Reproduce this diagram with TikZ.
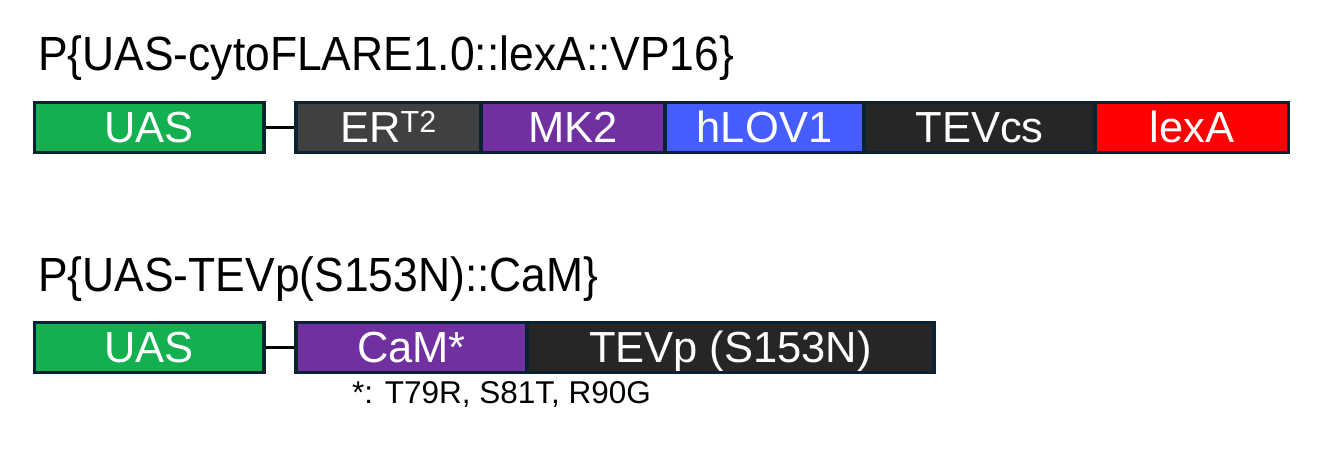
\documentclass[tikz,border=0pt]{standalone}
\usepackage{fontspec}
\setmainfont{Liberation Sans}
\newfontfamily\titlefont[FakeStretch=0.925]{Liberation Sans}
\definecolor{edge}{HTML}{0B2232}
\definecolor{uasgreen}{HTML}{12B04F}
\definecolor{ergray}{HTML}{404040}
\definecolor{mkpurple}{HTML}{7030A0}
\definecolor{lovblue}{HTML}{465DFF}
\definecolor{darkseg}{HTML}{262626}
\definecolor{lexred}{HTML}{FF0000}
\begin{document}
\begin{tikzpicture}[x=1pt,y=-1pt,
  seg/.style={draw=edge, line width=3.2pt, rectangle, inner sep=0pt,
    minimum height=50pt, text=white, text height=29pt, text depth=0pt,
    font=\fontsize{43.5}{43.5}\selectfont},
  title/.style={anchor=base west, inner sep=0pt, font=\titlefont\fontsize{48}{48}\selectfont},
  note/.style={anchor=base west, inner sep=0pt, font=\fontsize{31.5}{31.5}\selectfont},
  link/.style={draw=black, line width=3pt}]
\useasboundingbox (0,0) rectangle (1333,453);
% row 1
\node[title] (t1) at (38,70) {P\{UAS-cytoFLARE1.0::lexA::VP16\}};
\node[seg, fill=uasgreen, minimum width=229.5pt] (uas1) at (149.25,127.5) {UAS};
\node[seg, fill=ergray, minimum width=185pt] (er) at (388.5,127.5) {ER\textsuperscript{T2}};
\node[seg, fill=mkpurple, minimum width=184pt] (mk) at (573,127.5) {MK2};
\node[seg, fill=lovblue, minimum width=199pt] (lov) at (764.5,127.5) {hLOV1};
\node[seg, fill=darkseg, minimum width=231pt] (tev) at (979.5,127.5) {TEVcs};
\node[seg, fill=lexred, minimum width=193.5pt] (lex) at (1191.75,127.5) {lexA};
\draw[link] (uas1.east) -- (er.west);
% row 2
\node[title] (t2) at (38,291) {P\{UAS-TEVp(S153N)::CaM\}};
\node[seg, fill=uasgreen, minimum width=229.5pt] (uas2) at (149.25,347.5) {UAS};
\node[seg, fill=mkpurple, minimum width=231pt] (cam) at (411.5,347.5) {CaM*};
\node[seg, fill=darkseg, minimum width=407pt] (tevp) at (730.5,347.5) {TEVp (S153N)};
\draw[link] (uas2.east) -- (cam.west);
\node[note] (n) at (352,403) {*: T79R, S81T, R90G};
\end{tikzpicture}
\end{document}
